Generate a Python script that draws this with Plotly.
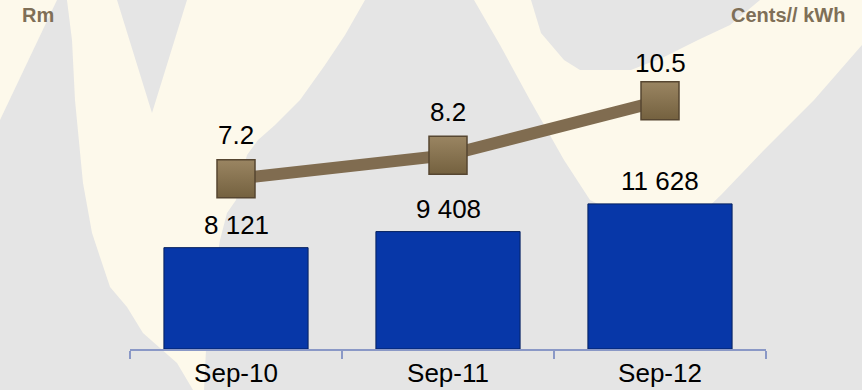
import plotly.graph_objects as go

# ---- data ----
categories = ["Sep-10", "Sep-11", "Sep-12"]
revenue_rm = [8121, 9408, 11628]          # Rm, bars (left axis)
price_cents_kwh = [7.2, 8.2, 10.5]        # Cents/kWh, line (right axis)

# ---- figure geometry ----
W, H = 862, 390
M_L, M_R, M_T, M_B = 130, 96, 37, 41
PLOT_W = W - M_L - M_R
PLOT_H = H - M_T - M_B

FONT = "Liberation Sans, Arial, sans-serif"
BG_GREY = "#e5e5e5"
CREAM = "#fdf9eb"
BAR_BLUE = "#0737a8"
LINE_BROWN = "#806c50"
TITLE_BROWN = "#7f6f57"


def to_paper(px, py):
    return (px - M_L) / PLOT_W, (H - M_B - py) / PLOT_H


def watermark_path(points):
    pts = [to_paper(x, y) for x, y in points]
    return "M " + " L ".join(f"{x:.4f},{y:.4f}" for x, y in pts) + " Z"


# decorative watermark behind the chart (pixel outlines)
watermark = [
    [(0, 0), (57, 0), (0, 120)],
    [(67, 0), (117, 0), (152, 113), (187, 0), (365, 0), (345, 35), (325, 65),
     (300, 100), (275, 125), (258, 140), (247, 155), (240, 180), (236, 200),
     (227, 213), (220, 240), (212, 290), (206, 350), (204, 390), (193, 390),
     (177, 363), (160, 348), (143, 333), (127, 307), (110, 287), (100, 257),
     (92, 233), (83, 183), (75, 100), (72, 40)],
    [(474, 0), (531, 0), (541, 33), (564, 60), (580, 70), (631, 70), (664, 57),
     (698, 40), (730, 25), (760, 0), (862, 0), (862, 45), (814, 100),
     (764, 150), (721, 195), (700, 215), (660, 260), (620, 215), (590, 200),
     (564, 160), (530, 100), (500, 45)],
]

shapes = [
    dict(type="path", xref="paper", yref="paper", path=watermark_path(p),
         fillcolor=CREAM, line=dict(width=0), layer="below")
    for p in watermark
]

fig = go.Figure()

fig.add_trace(go.Bar(
    x=categories, y=revenue_rm, yaxis="y",
    marker=dict(color=BAR_BLUE, line=dict(color="#04205f", width=1)),
    hoverinfo="skip",
))

fig.add_trace(go.Scatter(
    x=categories, y=price_cents_kwh, yaxis="y2",
    mode="lines+markers",
    line=dict(color=LINE_BROWN, width=12),
    marker=dict(symbol="square", size=38, color="#9a8562",
                gradient=dict(type="vertical", color="#74613f"),
                line=dict(color="#564631", width=1.5)),
    hoverinfo="skip",
))

annotations = []
# bar value labels, thousands separated by a space
for c, v in zip(categories, revenue_rm):
    annotations.append(dict(
        x=c, y=v, xref="x", yref="y", text=f"{v:,}".replace(",", " "),
        showarrow=False, yanchor="bottom", yshift=6,
        font=dict(family=FONT, size=26, color="#000000"),
    ))

# line value labels
line_label_lift = [27, 26, 21]
for c, v, lift in zip(categories, price_cents_kwh, line_label_lift):
    annotations.append(dict(
        x=c, y=v, xref="x", yref="y2", text=f"{v:.1f}",
        showarrow=False, yanchor="bottom", yshift=lift,
        font=dict(family=FONT, size=26, color="#000000"),
    ))

# axis unit captions
rx, ry = to_paper(19.5, 2)
annotations.append(dict(
    x=rx, y=ry, xref="paper", yref="paper", text="<b>Rm</b>",
    showarrow=False, xanchor="left", yanchor="top",
    font=dict(family=FONT, size=20, color=TITLE_BROWN),
))
cx, cy = to_paper(846.5, 2)
annotations.append(dict(
    x=cx, y=cy, xref="paper", yref="paper", text="<b>Cents// kWh</b>",
    showarrow=False, xanchor="right", yanchor="top",
    font=dict(family=FONT, size=20, color=TITLE_BROWN),
))

fig.update_layout(
    width=W, height=H,
    margin=dict(l=M_L, r=M_R, t=M_T, b=M_B, pad=0, autoexpand=False),
    paper_bgcolor=BG_GREY,
    plot_bgcolor="rgba(0,0,0,0)",
    showlegend=False,
    bargap=0.32,
    shapes=shapes,
    annotations=annotations,
    xaxis=dict(
        type="category", range=[-0.5, 2.5], automargin=False,
        showline=True, linecolor="#8a98c6", linewidth=1.5,
        ticks="outside", ticklen=8, tickcolor="#8a98c6", tickwidth=1.5,
        tickson="boundaries", showgrid=False, zeroline=False,
        tickfont=dict(family=FONT, size=26, color="#000000"),
        fixedrange=True,
    ),
    yaxis=dict(range=[0, 25000], visible=False, fixedrange=True,
               automargin=False),
    yaxis2=dict(range=[0, 13.2], overlaying="y", side="right",
                visible=False, fixedrange=True, automargin=False),
)

fig.write_html("out.html")
